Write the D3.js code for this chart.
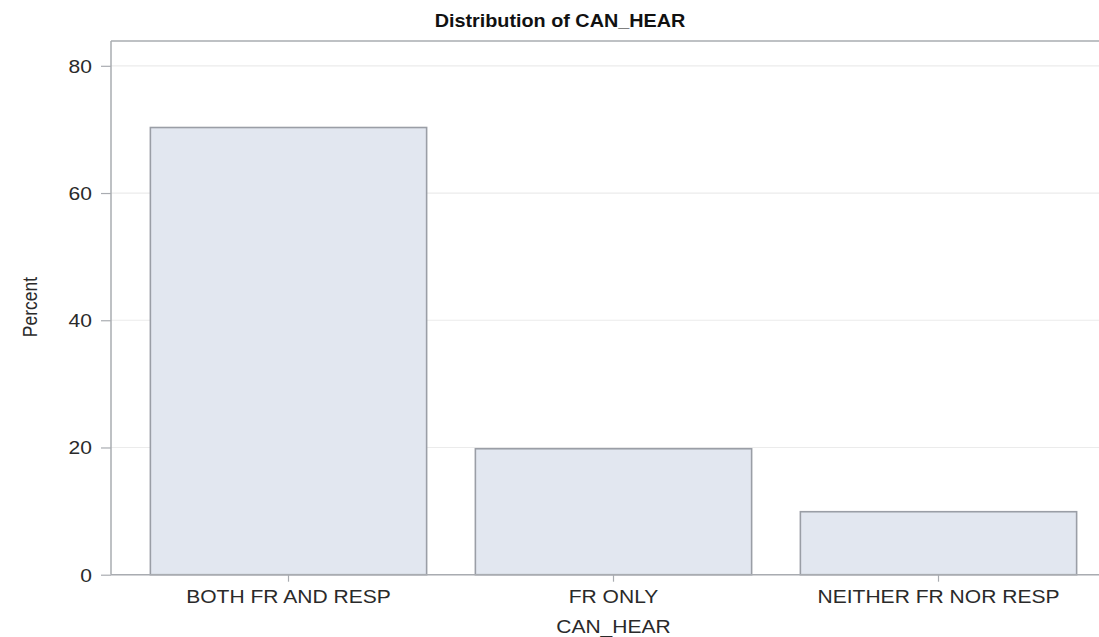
<!DOCTYPE html>
<html>
<head>
<meta charset="utf-8">
<script src="https://cdn.jsdelivr.net/npm/d3@7"></script>
<style>
  html, body { margin: 0; padding: 0; background: #fff; }
  svg { display: block; }
  text { font-family: "Liberation Sans", Arial, sans-serif; }
</style>
</head>
<body>
<svg id="chart" width="1099" height="637"></svg>
<script>
const categories = ["BOTH FR AND RESP", "FR ONLY", "NEITHER FR NOR RESP"];
const percents = [70.3, 19.8, 9.9];
const yTicks = [0, 20, 40, 60, 80];
const titleText = "Distribution of CAN_HEAR";
const xLabel = "CAN_HEAR";
const yLabel = "Percent";

const mLeft = 111, mRight = 1099, mTop = 41, mBottom = 574.7;
const SX = 1.17;
const txtColor = "#2a2a2a";

const svg = d3.select("#chart");

const x = d3.scaleBand().domain(categories).range([126, 1101])
  .paddingInner(0.15).paddingOuter(0.075);
const y = d3.scaleLinear().domain([0, 83.9]).range([mBottom, mTop]);

// gridlines
svg.append("g").selectAll("line").data(yTicks).join("line")
  .attr("x1", mLeft).attr("x2", mRight)
  .attr("y1", d => y(d)).attr("y2", d => y(d))
  .attr("stroke", "#ebebeb").attr("stroke-width", 1.2);

// bars
svg.append("g").selectAll("rect").data(categories).join("rect")
  .attr("x", d => x(d))
  .attr("y", (d, i) => y(percents[i]))
  .attr("width", x.bandwidth())
  .attr("height", (d, i) => mBottom - y(percents[i]))
  .attr("fill", "#e2e7f0")
  .attr("stroke", "#9a9ea6").attr("stroke-width", 1.6);

// frame: top line
svg.append("line").attr("x1", mLeft).attr("x2", mRight)
  .attr("y1", mTop).attr("y2", mTop)
  .attr("stroke", "#a9acb1").attr("stroke-width", 1.5);

// y axis
const yAxis = svg.append("g").attr("transform", `translate(${mLeft},0)`)
  .call(d3.axisLeft(y).tickValues(yTicks).tickSize(10).tickSizeOuter(0).tickPadding(0));
yAxis.select(".domain").attr("stroke", "#a9acb1").attr("stroke-width", 1.5)
  .attr("d", `M0,${mTop}V${mBottom}`);
yAxis.selectAll(".tick line").attr("stroke", "#a9acb1").attr("stroke-width", 1.2);
yAxis.selectAll(".tick text")
  .attr("x", null).attr("dy", null)
  .attr("transform", `translate(-19,6.5) scale(${SX},1)`)
  .attr("font-size", 18).attr("fill", txtColor)
  .attr("font-family", "Liberation Sans, Arial, sans-serif");

// x axis
const xAxis = svg.append("g").attr("transform", `translate(0,${mBottom})`)
  .call(d3.axisBottom(x).tickSize(7).tickSizeOuter(0).tickPadding(0));
xAxis.select(".domain").attr("stroke", "#a9acb1").attr("stroke-width", 1.5)
  .attr("d", `M${mLeft},0H${mRight}`);
xAxis.selectAll(".tick line").attr("stroke", "#a9acb1").attr("stroke-width", 1.2);
xAxis.selectAll(".tick text")
  .attr("y", null).attr("dy", null)
  .attr("transform", `translate(0,28) scale(${SX},1)`)
  .attr("font-size", 18).attr("fill", txtColor)
  .attr("font-family", "Liberation Sans, Arial, sans-serif");

// title
svg.append("text")
  .attr("transform", `translate(560,27) scale(1.1,1)`)
  .attr("text-anchor", "middle").attr("font-size", 18).attr("font-weight", "bold")
  .attr("fill", "#111").text(titleText);

// x label
svg.append("text")
  .attr("transform", `translate(613.5,633) scale(${SX},1)`)
  .attr("text-anchor", "middle").attr("font-size", 18).attr("fill", txtColor)
  .text(xLabel);

// y label
svg.append("text")
  .attr("transform", `translate(37,307) rotate(-90) scale(1,1.15)`)
  .attr("text-anchor", "middle").attr("font-size", 17.5).attr("fill", txtColor)
  .text(yLabel);
</script>
</body>
</html>
